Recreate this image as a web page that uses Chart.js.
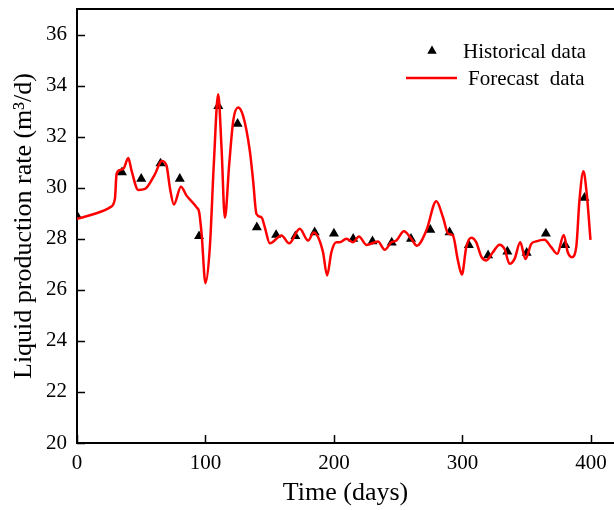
<!DOCTYPE html>
<html>
<head>
<meta charset="utf-8">
<script src="https://cdn.jsdelivr.net/npm/chart.js@4.4.1/dist/chart.umd.min.js"></script>
<style>
  html, body { margin: 0; padding: 0; background: #ffffff; }
  #wrap { position: relative; width: 614px; height: 510px; }
</style>
</head>
<body>
<div id="wrap"><canvas id="c" width="614" height="510"></canvas></div>
<script>
// ---- data ----
const historyDays = [0, 35, 50, 65, 80, 95, 110, 125, 140, 155, 170, 185, 200, 215, 230, 245, 260, 275, 290, 305, 320, 335, 350, 365, 380, 395];
const historyRate = [28.9, 30.6, 30.35, 30.95, 30.35, 28.1, 33.2, 32.5, 28.45, 28.15, 28.1, 28.25, 28.2, 28.0, 27.9, 27.85, 28.0, 28.35, 28.25, 27.75, 27.35, 27.5, 27.45, 28.2, 27.75, 29.6];

const forecastDays = [0, 12, 25.7, 29.5, 30.8, 33.4, 36.5, 39.9, 42.5, 47.7, 52.9, 60.7, 65.9, 69.7, 72.3, 75.4, 80.9, 85.3, 93.1, 95.1, 97, 100, 103.4, 106.5, 109.9, 112.5, 115.1, 118.5, 121.6, 125.4, 129.3, 134.5, 137.1, 139.7, 143.6, 146.2, 150.1, 159.2, 165.1, 173.4, 179.9, 184.3, 187.7, 191.5, 194.7, 198, 201.9, 204.5, 209.7, 214.9, 219.5, 225.3, 234.3, 239.5, 244.7, 248.6, 254.5, 260.2, 264.6, 271.9, 279.7, 284.9, 288.8, 292.6, 296.5, 299.6, 303, 306.9, 310.8, 314.7, 318.6, 323.7, 328.9, 332.8, 336.7, 340.6, 345, 349.1, 353.6, 357.5, 363.9, 369.1, 373.8, 378.9, 382, 385.2, 388.6, 391.1, 394.2, 396.8, 399.7];
const forecastRate = [28.78, 28.95, 29.23, 29.56, 30.53, 30.69, 30.77, 31.16, 30.66, 29.91, 29.95, 30.53, 31.05, 30.86, 30.0, 29.34, 30.04, 29.69, 29.23, 29.04, 28.19, 26.26, 27.67, 30.93, 33.66, 31.57, 28.82, 30.93, 32.62, 33.14, 32.81, 31.45, 30.27, 28.97, 28.84, 28.45, 27.82, 28.13, 27.82, 28.39, 27.93, 28.25, 28.06, 27.47, 26.56, 27.47, 27.86, 27.86, 28.0, 27.86, 28.09, 27.76, 27.89, 27.57, 27.86, 27.93, 28.29, 28.0, 27.73, 28.32, 29.47, 28.84, 28.21, 28.13, 27.15, 26.6, 27.67, 28.04, 27.86, 27.3, 27.15, 27.47, 27.77, 27.6, 27.02, 27.21, 27.86, 27.21, 27.8, 27.9, 27.96, 27.67, 27.41, 28.15, 27.47, 27.28, 27.67, 29.49, 30.64, 29.75, 27.96];

const xTickValues = [0, 100, 200, 300, 400];
const yTickValues = [20, 22, 24, 26, 28, 30, 32, 34, 36];

const seriesLabels = ['Historical data', 'Forecast  data'];
const xTitle = 'Time (days)';
const yTitle = 'Liquid production rate (m\u00B3/d)';

// ---- chart ----
const FONT = '"Liberation Serif", "Times New Roman", serif';

const framePlugin = {
  id: 'frame',
  afterDatasetsDraw(chart) {
    const ctx = chart.ctx;
    const xs = chart.scales.x, ys = chart.scales.y;
    const a = chart.chartArea;
    ctx.save();
    ctx.strokeStyle = '#000';
    ctx.lineWidth = 1.5;
    ctx.beginPath();
    xTickValues.forEach(v => {
      const px = Math.round(xs.getPixelForValue(v)) + 0.5;
      ctx.moveTo(px, a.bottom);
      ctx.lineTo(px, a.bottom - 8);
    });
    yTickValues.forEach(v => {
      const py = Math.round(ys.getPixelForValue(v)) + 0.5;
      ctx.moveTo(a.left, py);
      ctx.lineTo(a.left + 8, py);
    });
    ctx.stroke();
    ctx.lineWidth = 2;
    ctx.beginPath();
    ctx.moveTo(a.left - 1, a.top);
    ctx.lineTo(a.right, a.top);
    ctx.stroke();
    ctx.restore();
  }
};

const legendPlugin = {
  id: 'innerLegend',
  afterDraw(chart) {
    const ctx = chart.ctx;
    const ds = chart.data.datasets;
    ctx.save();
    ctx.font = '21px ' + FONT;
    ctx.fillStyle = '#000';
    ctx.textBaseline = 'middle';
    ctx.textAlign = 'left';
    const y1 = 51, y2 = 78;
    const tx = 432, r = 5.5;
    ctx.beginPath();
    ctx.moveTo(tx, y1 - r);
    ctx.lineTo(tx + r * 0.866, y1 + r * 0.5);
    ctx.lineTo(tx - r * 0.866, y1 + r * 0.5);
    ctx.closePath();
    ctx.fill();
    ctx.fillText(ds[0].label, 463, y1 + 1);
    ctx.strokeStyle = '#ff0000';
    ctx.lineWidth = 2.5;
    ctx.beginPath();
    ctx.moveTo(406, y2);
    ctx.lineTo(457, y2);
    ctx.stroke();
    ctx.fillText(ds[1].label, 468, y2 + 1);
    ctx.restore();
  }
};

new Chart(document.getElementById('c'), {
  type: 'scatter',
  data: {
    datasets: [
      {
        label: seriesLabels[0],
        data: historyDays.map((d, i) => ({ x: d, y: historyRate[i] })),
        pointStyle: 'triangle',
        pointRadius: 5.8,
        pointBackgroundColor: '#000',
        pointBorderColor: '#000',
        pointBorderWidth: 0,
        showLine: false,
        order: 1
      },
      {
        label: seriesLabels[1],
        data: forecastDays.map((d, i) => ({ x: d, y: forecastRate[i] })),
        showLine: true,
        borderColor: '#ff0000',
        borderWidth: 2.5,
        pointRadius: 0,
        cubicInterpolationMode: 'monotone',
        fill: false,
        order: 0
      }
    ]
  },
  options: {
    responsive: false,
    animation: false,
    devicePixelRatio: 1,
    layout: { autoPadding: false, padding: { top: 9, right: 0, bottom: 0, left: 0 } },
    plugins: {
      legend: { display: false },
      tooltip: { enabled: false }
    },
    scales: {
      x: {
        type: 'linear',
        min: 0,
        max: 418,
        afterBuildTicks: s => { s.ticks = xTickValues.map(v => ({ value: v })); },
        afterFit: s => { s.height = 67; s.paddingLeft = 0; s.paddingRight = 0; },
        grid: { display: false, drawTicks: false },
        border: { display: true, color: '#000', width: 2 },
        ticks: { color: '#000', font: { family: FONT, size: 21 }, padding: 8, maxRotation: 0 },
        title: {
          display: true, text: xTitle, color: '#000',
          font: { family: FONT, size: 26, lineHeight: 1 },
          padding: { top: 0, bottom: 4 }
        }
      },
      y: {
        type: 'linear',
        min: 20,
        max: 37,
        afterBuildTicks: s => { s.ticks = yTickValues.map(v => ({ value: v })); },
        afterFit: s => { s.width = 77; s.paddingTop = 0; s.paddingBottom = 0; },
        grid: { display: false, drawTicks: false },
        border: { display: true, color: '#000', width: 2 },
        ticks: { color: '#000', font: { family: FONT, size: 21 }, padding: 10 },
        title: {
          display: true, text: yTitle, color: '#000',
          font: { family: FONT, size: 26, lineHeight: 1 },
          padding: { top: 11, bottom: 0 }
        }
      }
    }
  },
  plugins: [framePlugin, legendPlugin]
});
</script>
</body>
</html>
